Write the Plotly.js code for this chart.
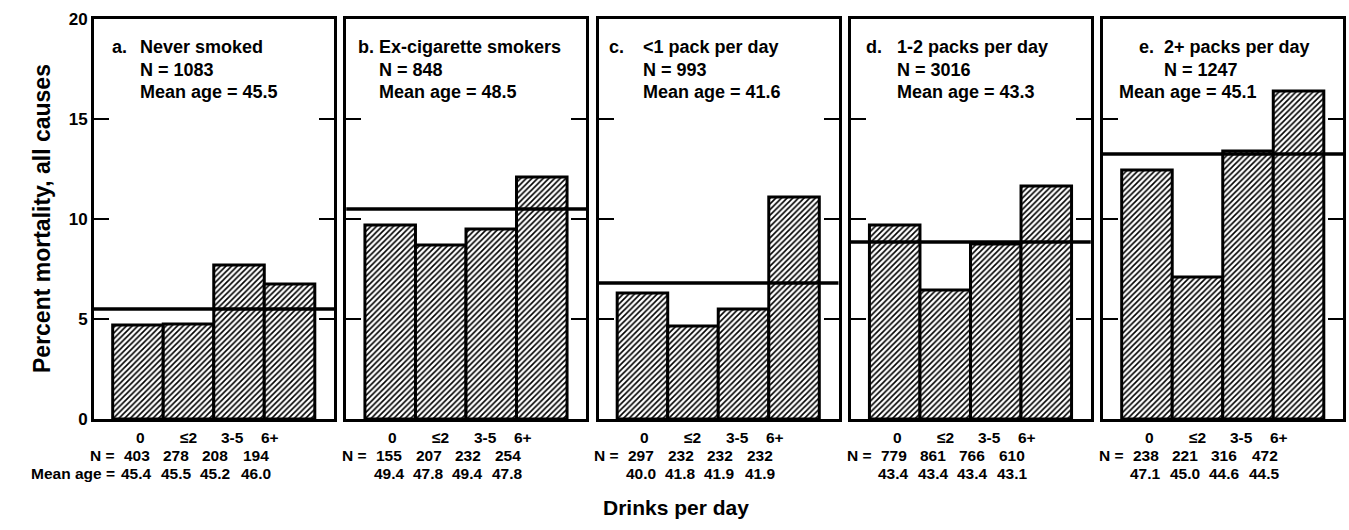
<!DOCTYPE html>
<html>
<head>
<meta charset="utf-8">
<script src="https://cdn.plot.ly/plotly-3.0.1.min.js"></script>
<style>html,body{margin:0;padding:0;background:#fff;}#chart{width:1349px;height:530px;}</style>
</head>
<body>
<div id="chart"></div>
<script>
// ---- data ----
const groupLetters = ['a.', 'b.', 'c.', 'd.', 'e.'];
const groupNames = ['Never smoked', 'Ex-cigarette smokers', '&lt;1 pack per day', '1-2 packs per day', '2+ packs per day'];
const groupN = ['1083', '848', '993', '3016', '1247'];
const groupMeanAge = ['45.5', '48.5', '41.6', '43.3', '45.1'];
const drinkCats = ['0', '≤2', '3-5', '6+'];
const mortality = [
  [4.7, 4.75, 7.7, 6.75],
  [9.7, 8.7, 9.5, 12.1],
  [6.3, 4.65, 5.5, 11.1],
  [9.7, 6.45, 8.75, 11.65],
  [12.45, 7.1, 13.4, 16.4]
];
const groupMortality = [5.5, 10.5, 6.8, 8.85, 13.25];
const cellN = [
  ['403', '278', '208', '194'],
  ['155', '207', '232', '254'],
  ['297', '232', '232', '232'],
  ['779', '861', '766', '610'],
  ['238', '221', '316', '472']
];
const cellMeanAge = [
  ['45.4', '45.5', '45.2', '46.0'],
  ['49.4', '47.8', '49.4', '47.8'],
  ['40.0', '41.8', '41.9', '41.9'],
  ['43.4', '43.4', '43.4', '43.1'],
  ['47.1', '45.0', '44.6', '44.5']
];
const yTicks = [0, 5, 10, 15, 20];

// ---- layout helpers (positions/styles) ----
const FONT = 'Liberation Sans, Arial, sans-serif';
const ML = 94, MR = 6, MT = 19, MB = 111, W = 1349, H = 530;
const plotW = W - ML - MR;
const panelW = 240;
const gapPx = (plotW - 5 * panelW) / 4;
const catPosTop = [0.05, 1.0, 1.88, 2.62];   // label x positions (category units)
const catPosRows = [-0.02, 0.76, 1.53, 2.33];
const rowShift = [-18, -36, -54];
const LABEL_SIZE = 15.5;
const headerOffsets = [ // px from panel left: letter, name, N, mean age
  [16, 44, 44, 44],
  [10, 31, 31, 31],
  [8, 42, 42, 42],
  [13, 44, 44, 44],
  [34, 59, 59, 14]
];
const headerRowsY = [-28, -51, -73];

const traces = [];
const layout = {
  width: W, height: H,
  margin: {l: ML, r: MR, t: MT, b: MB},
  paper_bgcolor: 'white', plot_bgcolor: 'white',
  showlegend: false,
  bargap: 0,
  font: {family: FONT, color: 'black'},
  shapes: [], annotations: []
};

const boldFont = (s) => ({family: FONT, size: s, color: 'black', weight: 'bold'});

for (let k = 0; k < 5; k++) {
  const s = k === 0 ? '' : String(k + 1);
  const x0 = (k * (panelW + gapPx)) / plotW;
  const x1 = (k * (panelW + gapPx) + panelW) / plotW;
  traces.push({
    type: 'bar',
    x: drinkCats,
    y: mortality[k],
    xaxis: 'x' + s, yaxis: 'y' + s,
    width: 1,
    marker: {
      color: 'white',
      pattern: {shape: '/', fgcolor: 'black', bgcolor: 'white', size: 4, solidity: 0.4},
      line: {color: 'black', width: 3}
    },
    hoverinfo: 'skip'
  });
  layout['xaxis' + s] = {
    domain: [x0, x1], anchor: 'y' + s, type: 'category',
    range: [-0.87, 3.88],
    showline: true, linecolor: 'black', linewidth: 3, mirror: true,
    ticks: '', showticklabels: false, showgrid: false, zeroline: false
  };
  layout['yaxis' + s] = {
    domain: [0, 1], anchor: 'x' + s,
    range: [0, 20],
    tickmode: 'array', tickvals: yTicks, ticktext: yTicks.map(String),
    ticks: 'inside', ticklen: 15, tickwidth: 2.5, tickcolor: 'black',
    showline: true, linecolor: 'black', linewidth: 3, mirror: 'ticks',
    showgrid: false, zeroline: false,
    showticklabels: k === 0,
    tickfont: boldFont(17)
  };
  layout.shapes.push({
    type: 'line', layer: 'above',
    xref: 'x' + s + ' domain', yref: 'y' + s,
    x0: 0, x1: 1, y0: groupMortality[k], y1: groupMortality[k],
    line: {color: 'black', width: 3.5}
  });
  // header texts
  const off = headerOffsets[k];
  const headerLines = [
    [groupLetters[k], off[0], headerRowsY[0]],
    [groupNames[k], off[1], headerRowsY[0]],
    ['N = ' + groupN[k], off[2], headerRowsY[1]],
    ['Mean age = ' + groupMeanAge[k], off[3], headerRowsY[2]]
  ];
  headerLines.forEach(([t, dx, dy]) => {
    layout.annotations.push({
      xref: 'x' + s + ' domain', yref: 'y' + s + ' domain',
      x: 0, y: 1, xshift: dx, yshift: dy,
      xanchor: 'left', yanchor: 'middle',
      text: t, showarrow: false, font: boldFont(18)
    });
  });
  // bottom labels
  for (let i = 0; i < 4; i++) {
    layout.annotations.push({
      xref: 'x' + s, yref: 'y' + s + ' domain', x: catPosTop[i], y: 0, yshift: rowShift[0],
      xanchor: 'center', yanchor: 'middle', text: drinkCats[i], showarrow: false, font: boldFont(LABEL_SIZE)
    });
    layout.annotations.push({
      xref: 'x' + s, yref: 'y' + s + ' domain', x: catPosRows[i], y: 0, yshift: rowShift[1],
      xanchor: 'center', yanchor: 'middle', text: cellN[k][i], showarrow: false, font: boldFont(LABEL_SIZE)
    });
    layout.annotations.push({
      xref: 'x' + s, yref: 'y' + s + ' domain', x: catPosRows[i], y: 0, yshift: rowShift[2],
      xanchor: 'center', yanchor: 'middle', text: cellMeanAge[k][i], showarrow: false, font: boldFont(LABEL_SIZE)
    });
  }
  layout.annotations.push({
    xref: 'x' + s, yref: 'y' + s + ' domain', x: catPosRows[0], y: 0, xshift: -20, yshift: rowShift[1],
    xanchor: 'right', yanchor: 'middle', text: 'N =', showarrow: false, font: boldFont(LABEL_SIZE)
  });
  if (k === 0) {
    layout.annotations.push({
      xref: 'x' + s, yref: 'y' + s + ' domain', x: catPosRows[0], y: 0, xshift: -20, yshift: rowShift[2],
      xanchor: 'right', yanchor: 'middle', text: 'Mean age =', showarrow: false, font: boldFont(LABEL_SIZE)
    });
  }
}

// axis titles
layout.annotations.push({
  xref: 'paper', yref: 'paper', x: 0, y: 0.5, xshift: -52,
  xanchor: 'center', yanchor: 'middle', textangle: -90,
  text: 'Percent mortality, all causes', showarrow: false, font: boldFont(23)
});
layout.annotations.push({
  xref: 'paper', yref: 'paper', x: (676 - ML) / plotW, y: 0, yshift: -88,
  xanchor: 'center', yanchor: 'middle',
  text: 'Drinks per day', showarrow: false, font: boldFont(21)
});

Plotly.newPlot('chart', traces, layout, {staticPlot: true, displayModeBar: false});
</script>
</body>
</html>
